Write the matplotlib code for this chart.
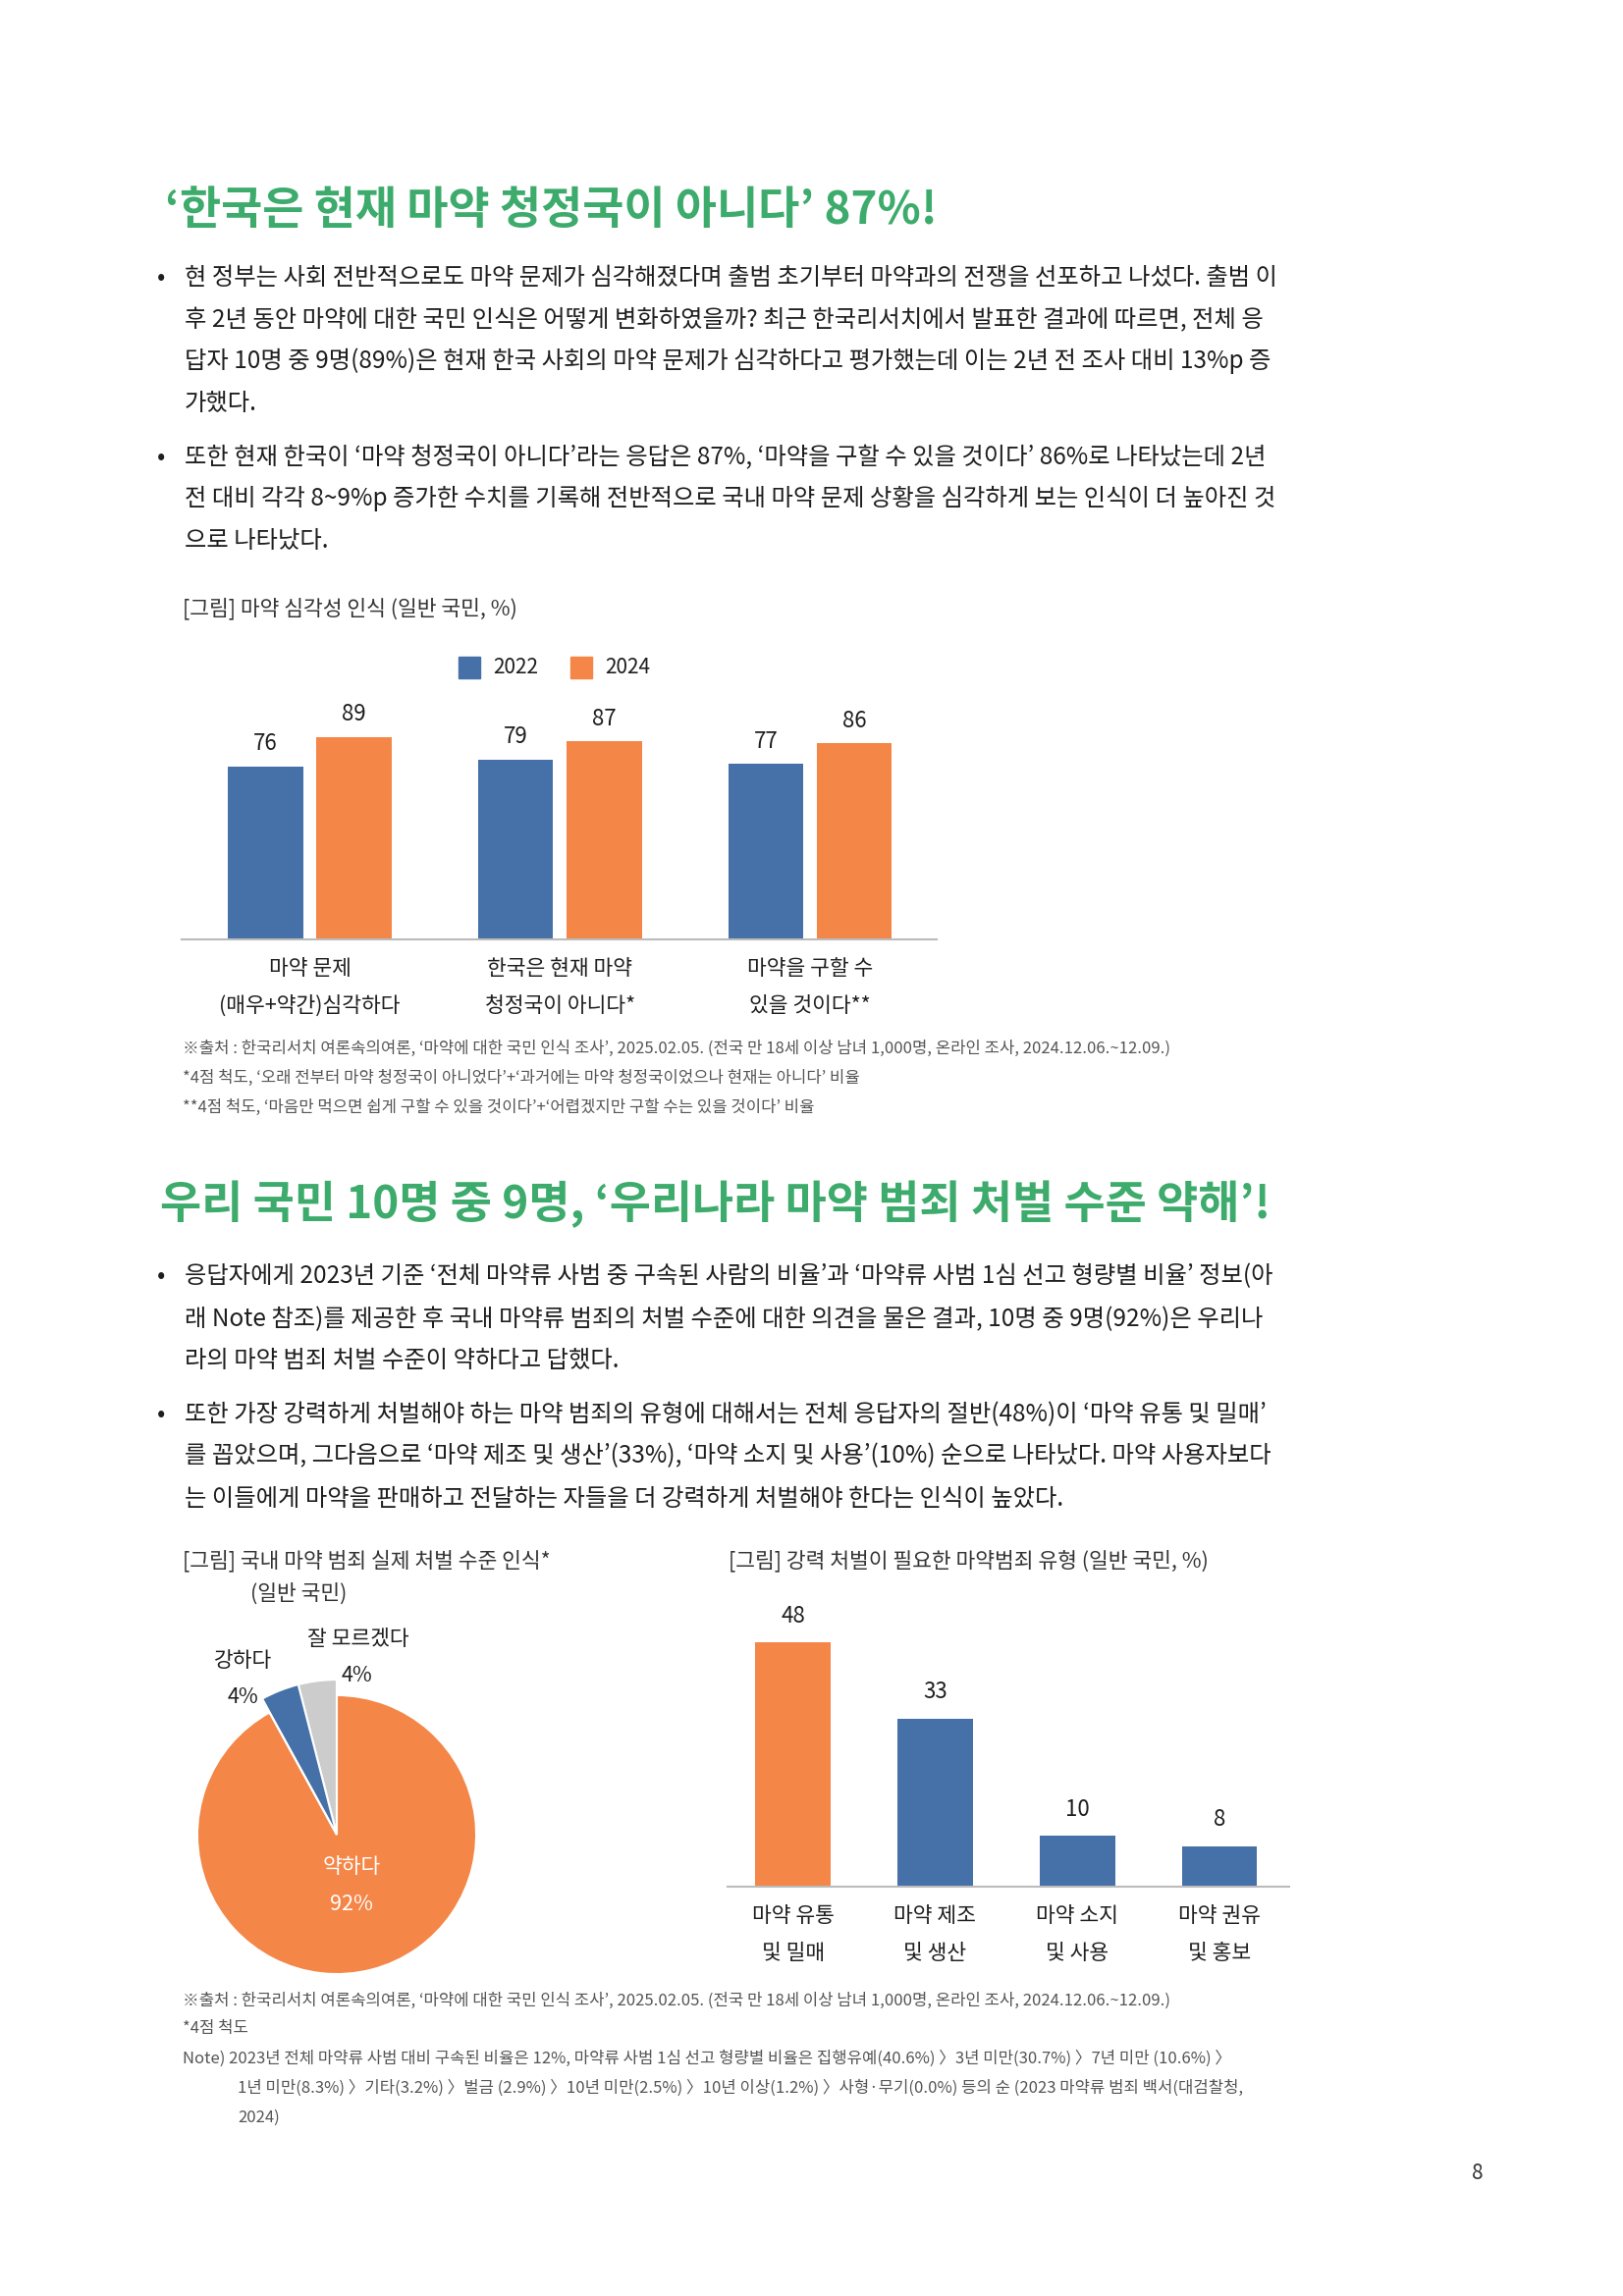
import matplotlib
matplotlib.use("Agg")
import matplotlib.pyplot as plt
from matplotlib import font_manager as fm
import glob

for f in glob.glob("/usr/share/fonts/**/*CJK*", recursive=True) + glob.glob("/usr/local/share/fonts/**/*CJK*", recursive=True):
    try:
        fm.fontManager.addfont(f)
    except Exception:
        pass
names = set(f.name for f in fm.fontManager.ttflist)
fam = [n for n in ["Noto Sans CJK KR", "Noto Sans CJK JP", "Noto Sans CJK SC", "Noto Sans CJK TC"] if n in names]
plt.rcParams["font.family"] = fam + ["DejaVu Sans"]

W, H = 1653, 2339
fig = plt.figure(figsize=(W/100, H/100), dpi=100)
fig.patch.set_facecolor("white")

BLUE = "#4570a8"
ORANGE = "#f48647"
GREY = "#cccccc"
GREEN = "#3dab6c"
TXT = "#1e1e1e"

def T(x, y, s, size=17.5, color=TXT, **kw):
    fig.text(x/W, 1 - y/H, s, fontsize=size, color=color, va="center", **kw)

def AX(l, t, r, b):
    return fig.add_axes([l/W, 1 - b/H, (r-l)/W, (b-t)/H])

# ---------------- data ----------------
c1_categories = ["마약 문제\n(매우+약간)심각하다", "한국은 현재 마약\n청정국이 아니다*", "마약을 구할 수\n있을 것이다**"]
c1_2022 = [76, 79, 77]
c1_2024 = [89, 87, 86]
c1_years = ["2022", "2024"]

pie_labels = ["잘 모르겠다", "강하다", "약하다"]
pie_values = [4, 4, 92]

c3_categories = ["마약 유통\n및 밀매", "마약 제조\n및 생산", "마약 소지\n및 사용", "마약 권유\n및 홍보"]
c3_values = [48, 33, 10, 8]

# ---------------- section 1 text ----------------
T(168, 215, "‘한국은 현재 마약 청정국이 아니다’ 87%!", size=33, color=GREEN, fontweight="bold")
b1 = ["현 정부는 사회 전반적으로도 마약 문제가 심각해졌다며 출범 초기부터 마약과의 전쟁을 선포하고 나섰다. 출범 이",
      "후 2년 동안 마약에 대한 국민 인식은 어떻게 변화하였을까? 최근 한국리서치에서 발표한 결과에 따르면, 전체 응",
      "답자 10명 중 9명(89%)은 현재 한국 사회의 마약 문제가 심각하다고 평가했는데 이는 2년 전 조사 대비 13%p 증",
      "가했다."]
b2 = ["또한 현재 한국이 ‘마약 청정국이 아니다’라는 응답은 87%, ‘마약을 구할 수 있을 것이다’ 86%로 나타났는데 2년",
      "전 대비 각각 8~9%p 증가한 수치를 기록해 전반적으로 국내 마약 문제 상황을 심각하게 보는 인식이 더 높아진 것",
      "으로 나타났다."]
ys = [283, 326, 368, 411]
T(160, ys[0], "•")
for y, s in zip(ys, b1):
    T(188, y, s)
ys = [466, 508, 551]
T(160, ys[0], "•")
for y, s in zip(ys, b2):
    T(188, y, s)

T(186, 620, "[그림] 마약 심각성 인식 (일반 국민, %)", size=15.5, color="#333333")

# legend
fig.patches.append(plt.Rectangle((467/W, 1-691/H), 22/W, 22/H, transform=fig.transFigure, color=BLUE))
T(502, 680, c1_years[0], size=15)
fig.patches.append(plt.Rectangle((581/W, 1-691/H), 22/W, 22/H, transform=fig.transFigure, color=ORANGE))
T(616, 680, c1_years[1], size=15)

# chart 1
ax1 = AX(185, 725, 954, 957)
x = list(range(len(c1_categories)))
off, w = 0.177, 0.30
ax1.bar([i - off for i in x], c1_2022, w, color=BLUE)
ax1.bar([i + off for i in x], c1_2024, w, color=ORANGE)
for i in x:
    ax1.text(i - off, c1_2022[i] + 5, str(c1_2022[i]), ha="center", va="bottom", fontsize=16, color=TXT)
    ax1.text(i + off, c1_2024[i] + 5, str(c1_2024[i]), ha="center", va="bottom", fontsize=16, color=TXT)
ax1.set_xlim(-0.512, 2.506)
ax1.set_ylim(0, 100)
ax1.set_yticks([])
ax1.set_xticks(x)
ax1.set_xticklabels(c1_categories, fontsize=15.5, color=TXT, linespacing=1.9)
ax1.tick_params(axis="x", length=0, pad=14)
for s in ["top", "left", "right"]:
    ax1.spines[s].set_visible(False)
ax1.spines["bottom"].set_color("#bbbbbb")
ax1.spines["bottom"].set_linewidth(1.5)
ax1.patch.set_alpha(0)

fn1 = ["※출처 : 한국리서치 여론속의여론, ‘마약에 대한 국민 인식 조사’, 2025.02.05. (전국 만 18세 이상 남녀 1,000명, 온라인 조사, 2024.12.06.~12.09.)",
       "*4점 척도, ‘오래 전부터 마약 청정국이 아니었다’+‘과거에는 마약 청정국이었으나 현재는 아니다’ 비율",
       "**4점 척도, ‘마음만 먹으면 쉽게 구할 수 있을 것이다’+‘어렵겠지만 구할 수는 있을 것이다’ 비율"]
for y, s in zip([1068, 1098, 1128], fn1):
    T(186, y, s, size=12, color="#555555")

# ---------------- section 2 text ----------------
T(163, 1227, "우리 국민 10명 중 9명, ‘우리나라 마약 범죄 처벌 수준 약해’!", size=33, color=GREEN, fontweight="bold")
b3 = ["응답자에게 2023년 기준 ‘전체 마약류 사범 중 구속된 사람의 비율’과 ‘마약류 사범 1심 선고 형량별 비율’ 정보(아",
      "래 Note 참조)를 제공한 후 국내 마약류 범죄의 처벌 수준에 대한 의견을 물은 결과, 10명 중 9명(92%)은 우리나",
      "라의 마약 범죄 처벌 수준이 약하다고 답했다."]
b4 = ["또한 가장 강력하게 처벌해야 하는 마약 범죄의 유형에 대해서는 전체 응답자의 절반(48%)이 ‘마약 유통 및 밀매’",
      "를 꼽았으며, 그다음으로 ‘마약 제조 및 생산’(33%), ‘마약 소지 및 사용’(10%) 순으로 나타났다. 마약 사용자보다",
      "는 이들에게 마약을 판매하고 전달하는 자들을 더 강력하게 처벌해야 한다는 인식이 높았다."]
ys = [1300, 1344, 1386]
T(160, ys[0], "•")
for y, s in zip(ys, b3):
    T(188, y, s)
ys = [1441, 1483, 1527]
T(160, ys[0], "•")
for y, s in zip(ys, b4):
    T(188, y, s)

T(186, 1590, "[그림] 국내 마약 범죄 실제 처벌 수준 인식*", size=15.5, color="#333333")
T(255, 1624, "(일반 국민)", size=15.5, color="#333333")
T(742, 1590, "[그림] 강력 처벌이 필요한 마약범죄 유형 (일반 국민, %)", size=15.5, color="#333333")

# pie
R = 141
cx, cy = 343, 1869
axp = AX(cx - 1.2*R, cy - 1.2*R, cx + 1.2*R, cy + 1.2*R)
axp.pie(pie_values, colors=["none", "none", ORANGE], startangle=90, counterclock=True,
        radius=1.0, wedgeprops=dict(linewidth=0))
axp.pie(pie_values, colors=[GREY, BLUE, "none"], startangle=90, counterclock=True,
        radius=1.12, wedgeprops=dict(linewidth=1.5, edgecolor="white"))
axp.set_xlim(-1.2, 1.2)
axp.set_ylim(-1.2, 1.2)
axp.set_aspect("equal")
axp.axis("off")
T(248, 1692, pie_labels[1], size=15.5, ha="center")
T(248, 1729, f"{pie_values[1]}%", size=15.5, ha="center")
T(365, 1670, pie_labels[0], size=15.5, ha="center")
T(363, 1707, f"{pie_values[0]}%", size=15.5, ha="center")
T(358, 1902, pie_labels[2], size=15.5, ha="center", color="white")
T(358, 1940, f"{pie_values[2]}%", size=15.5, ha="center", color="white")

# chart 3
ax3 = AX(741, 1637, 1313, 1922)
x3 = list(range(len(c3_values)))
ax3.bar(x3, c3_values, 0.53, color=[ORANGE, BLUE, BLUE, BLUE])
for i, v in zip(x3, c3_values):
    ax3.text(i, v + 3, str(v), ha="center", va="bottom", fontsize=16, color=TXT)
ax3.set_xlim(-0.46, 3.49)
ax3.set_ylim(0, 55)
ax3.set_yticks([])
ax3.set_xticks(x3)
ax3.set_xticklabels(c3_categories, fontsize=15.5, color=TXT, linespacing=1.9)
ax3.tick_params(axis="x", length=0, pad=14)
for s in ["top", "left", "right"]:
    ax3.spines[s].set_visible(False)
ax3.spines["bottom"].set_color("#bbbbbb")
ax3.spines["bottom"].set_linewidth(1.5)
ax3.patch.set_alpha(0)

fn2 = [(186, 2038, "※출처 : 한국리서치 여론속의여론, ‘마약에 대한 국민 인식 조사’, 2025.02.05. (전국 만 18세 이상 남녀 1,000명, 온라인 조사, 2024.12.06.~12.09.)"),
       (186, 2067, "*4점 척도"),
       (186, 2097, "Note) 2023년 전체 마약류 사범 대비 구속된 비율은 12%, 마약류 사범 1심 선고 형량별 비율은 집행유예(40.6%) 〉3년 미만(30.7%) 〉7년 미만 (10.6%) 〉"),
       (242, 2127, "1년 미만(8.3%) 〉기타(3.2%) 〉벌금 (2.9%) 〉10년 미만(2.5%) 〉10년 이상(1.2%) 〉사형·무기(0.0%) 등의 순 (2023 마약류 범죄 백서(대검찰청,"),
       (242, 2157, "2024)")]
for xx, y, s in fn2:
    T(xx, y, s, size=12, color="#555555")

T(1505, 2214, "8", size=15, color="#333333", ha="center")

fig.savefig("out.png", dpi=100, facecolor="white")
